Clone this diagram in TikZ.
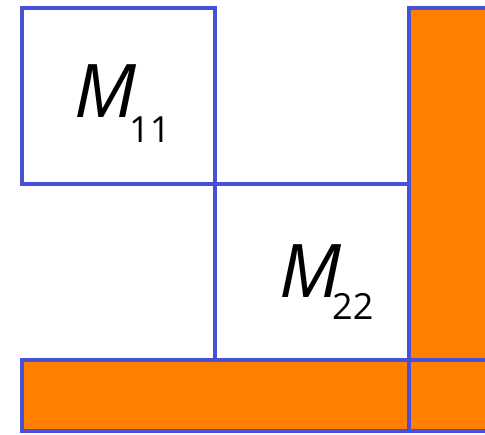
\documentclass[tikz,border=0pt]{standalone}
\usepackage{fontspec}
\setmainfont{Open Sans}
\definecolor{edgeblue}{RGB}{74,80,214}
\definecolor{barorange}{RGB}{255,128,0}
\tikzset{
  cell/.style={draw=edgeblue, line width=4pt},
  bar/.style={cell, fill=barorange},
  bigM/.style={inner sep=0pt, anchor=base west, font=\fontsize{74}{74}\selectfont\itshape},
  subs/.style={inner sep=0pt, anchor=base west, font=\fontsize{36}{36}\selectfont}
}
\begin{document}
\begin{tikzpicture}[x=1pt,y=-1pt]
\useasboundingbox (0,0) rectangle (485,435);
\draw[bar] (409,8) rectangle (495,431);
\draw[bar] (22,360) rectangle (409,431);
\draw[cell] (409,360) -- (495,360);
\draw[cell] (22,8) rectangle (215,184);
\draw[cell] (215,184) rectangle (409,360);
\node[bigM] (m1) at (74,118) {M};
\node[subs] (s1) at (129,143) {11};
\node[bigM] (m2) at (279,298) {M};
\node[subs] (s2) at (332,320) {22};
\end{tikzpicture}
\end{document}
